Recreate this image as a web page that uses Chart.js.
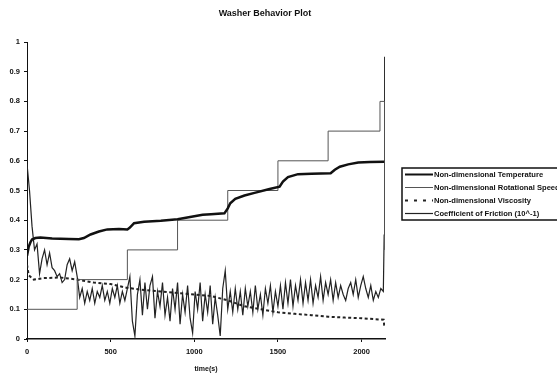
<!DOCTYPE html>
<html>
<head>
<meta charset="utf-8">
<script src="https://cdn.jsdelivr.net/npm/chart.js@4.4.1/dist/chart.umd.min.js"></script>
<style>
  html, body { margin: 0; padding: 0; background: #fff; }
  canvas { display: block; }
</style>
</head>
<body>
<canvas id="chart" width="557" height="374"></canvas>
<script>
const chartTitle = "Washer Behavior Plot";
const xTitle = "time(s)";
const xTicks = [0, 500, 1000, 1500, 2000];
const yTicks = [0, 0.1, 0.2, 0.3, 0.4, 0.5, 0.6, 0.7, 0.8, 0.9, 1];

// thick line
const tempTime = [0, 10, 20, 30, 50, 80, 150, 250, 310, 340, 380, 430, 480, 550, 600, 615, 640, 700, 800, 900,
    1000, 1050, 1100, 1180, 1200, 1215, 1245, 1300, 1360, 1450, 1510, 1530, 1560, 1620, 1700, 1815, 1840, 1870,
    1920, 1980, 2050, 2135];
const tempValue = [0.28, 0.31, 0.325, 0.335, 0.34, 0.342, 0.338, 0.337, 0.336, 0.34, 0.352, 0.362, 0.369, 0.37,
    0.369, 0.375, 0.39, 0.395, 0.398, 0.403, 0.413, 0.418, 0.42, 0.423, 0.44, 0.457, 0.472, 0.483, 0.492, 0.505,
    0.513, 0.53, 0.545, 0.555, 0.556, 0.558, 0.57, 0.58, 0.588, 0.594, 0.596, 0.597];

// steps
const speedTime = [0, 300, 600, 900, 1200, 1500, 1800, 2110, 2138];
const speedValue = [0.1, 0.2, 0.3, 0.4, 0.5, 0.6, 0.7, 0.8, 0.3];

// dashed
const viscTime = [0, 10, 40, 100, 200, 300, 400, 500, 600, 700, 800, 900, 1000, 1100, 1200, 1300, 1400, 1500,
    1600, 1700, 1800, 1900, 2000, 2100, 2132, 2136];
const viscValue = [0.25, 0.215, 0.2, 0.205, 0.207, 0.2, 0.19, 0.185, 0.172, 0.165, 0.16, 0.155, 0.15, 0.145,
    0.13, 0.11, 0.1, 0.09, 0.085, 0.08, 0.075, 0.072, 0.07, 0.066, 0.065, 0.04];

// noisy
const frictionTime = [
    0, 15, 30, 45, 60, 75, 90, 105, 120, 135,
    150, 165, 180, 195, 210, 225, 240, 255, 270, 285,
    300, 315, 330, 345, 360, 375, 390, 405, 420, 435,
    450, 465, 480, 495, 510, 525, 540, 555, 570, 585,
    600, 615, 630, 645, 660, 675, 690, 705, 720, 735,
    750, 765, 780, 795, 810, 825, 840, 855, 870, 885,
    900, 915, 930, 945, 960, 975, 990, 1005, 1020, 1035,
    1050, 1065, 1080, 1095, 1110, 1125, 1140, 1155, 1170, 1185,
    1200, 1215, 1230, 1245, 1260, 1275, 1290, 1305, 1320, 1335,
    1350, 1365, 1380, 1395, 1410, 1425, 1440, 1455, 1470, 1485,
    1500, 1515, 1530, 1545, 1560, 1575, 1590, 1605, 1620, 1635,
    1650, 1665, 1680, 1695, 1710, 1725, 1740, 1755, 1770, 1785,
    1800, 1815, 1830, 1845, 1860, 1875, 1890, 1905, 1920, 1935,
    1950, 1965, 1980, 1995, 2010, 2025, 2040, 2055, 2070, 2085,
    2100, 2115, 2130, 2135, 2138];
const frictionValue = [
    0.59, 0.5, 0.38, 0.3, 0.32, 0.22, 0.27, 0.3, 0.25, 0.29,
    0.24, 0.23, 0.21, 0.22, 0.19, 0.2, 0.25, 0.27, 0.23, 0.26,
    0.21, 0.14, 0.17, 0.12, 0.16, 0.13, 0.17, 0.12, 0.16, 0.14,
    0.18, 0.13, 0.16, 0.12, 0.17, 0.14, 0.18, 0.12, 0.16, 0.13,
    0.17, 0.21, 0.06, 0.01, 0.15, 0.2, 0.08, 0.19, 0.1, 0.18,
    0.21, 0.07, 0.16, 0.11, 0.19, 0.08, 0.14, 0.06, 0.17, 0.1,
    0.19, 0.05, 0.15, 0.09, 0.18, 0.07, 0.02, 0.16, 0.1, 0.19,
    0.06, 0.15, 0.09, 0.18, 0.05, 0.14, 0.08, 0.01, 0.17, 0.23,
    0.1, 0.16, 0.09, 0.17, 0.1, 0.16, 0.08, 0.17, 0.11, 0.16,
    0.09, 0.18, 0.1, 0.15, 0.08, 0.17, 0.12, 0.18, 0.09, 0.16,
    0.11, 0.18, 0.1, 0.19, 0.12, 0.2, 0.11, 0.18, 0.13, 0.2,
    0.12, 0.19, 0.13, 0.2, 0.12, 0.18, 0.14, 0.21, 0.13, 0.19,
    0.15, 0.2, 0.13, 0.19, 0.14, 0.18, 0.15, 0.13, 0.17, 0.19,
    0.15, 0.2, 0.14, 0.18, 0.21, 0.17, 0.14, 0.18, 0.13, 0.16,
    0.14, 0.17, 0.16, 0.35, 0.95];

const FONT = '"Liberation Sans", Arial, sans-serif';

function toPoints(xs, ys) {
    return xs.map((x, i) => ({ x: x, y: ys[i] }));
}

const decorPlugin = {
    id: "decor",
    afterDraw(chart) {
        const ctx = chart.ctx;
        ctx.save();
        ctx.fillStyle = "#111";
        ctx.font = "bold 9px " + FONT;
        ctx.textAlign = "center";
        ctx.textBaseline = "middle";
        ctx.fillText(chartTitle, 265, 14);

        // legend box, runs off the right edge like the scan
        ctx.strokeStyle = "#111";
        ctx.lineWidth = 1.5;
        ctx.strokeRect(402, 168, 200, 52);

        ctx.font = "bold 7.6px " + FONT;
        ctx.textAlign = "left";
        chart.data.datasets.forEach((ds, i) => {
            const y = 174.5 + i * 13;
            ctx.beginPath();
            ctx.setLineDash(ds.borderDash ? [3, 6] : []);
            ctx.lineWidth = Math.min(ds.borderWidth, 2);
            ctx.strokeStyle = ds.borderColor;
            ctx.moveTo(405, y);
            ctx.lineTo(433, y);
            ctx.stroke();
            ctx.setLineDash([]);
            ctx.fillStyle = "#111";
            ctx.fillText(ds.label, 434, y);
        });
        ctx.restore();
    }
};

new Chart(document.getElementById("chart"), {
    type: "line",
    data: {
        datasets: [
            {
                label: "Non-dimensional Temperature",
                data: toPoints(tempTime, tempValue),
                borderColor: "#111",
                borderWidth: 2.5
            },
            {
                label: "Non-dimensional Rotational Speed",
                data: toPoints(speedTime, speedValue),
                borderColor: "#555",
                borderWidth: 1,
                stepped: true
            },
            {
                label: "Non-dimensional Viscosity",
                data: toPoints(viscTime, viscValue),
                borderColor: "#222",
                borderWidth: 2,
                borderDash: [3, 2.5]
            },
            {
                label: "Coefficient of Friction (10^-1)",
                data: toPoints(frictionTime, frictionValue),
                borderColor: "#222",
                borderWidth: 1.2
            }
        ]
    },
    options: {
        responsive: false,
        animation: false,
        devicePixelRatio: 1,
        elements: {
            point: { radius: 0 },
            line: { tension: 0 }
        },
        layout: {
            padding: { left: 0, right: 172, top: 42, bottom: 0 }
        },
        plugins: {
            legend: { display: false },
            title: { display: false },
            tooltip: { enabled: false }
        },
        scales: {
            x: {
                type: "linear",
                min: 0,
                max: 2140,
                afterFit: (scale) => { scale.height = 35; },
                afterBuildTicks: (scale) => { scale.ticks = xTicks.map(v => ({ value: v })); },
                grid: { drawOnChartArea: false, drawTicks: true, tickLength: 3, color: "#111" },
                border: { display: true, color: "#111", width: 1.5 },
                ticks: {
                    padding: 5,
                    color: "#111",
                    font: { family: FONT, size: 7.5, weight: "bold" },
                    callback: (v) => String(v)
                },
                title: {
                    display: true,
                    text: xTitle,
                    color: "#111",
                    font: { family: FONT, size: 7, weight: "bold", lineHeight: 1 },
                    padding: { top: 0, bottom: 1 }
                }
            },
            y: {
                min: 0,
                max: 1,
                afterFit: (scale) => { scale.width = 27; },
                afterBuildTicks: (scale) => { scale.ticks = yTicks.map(v => ({ value: v })); },
                grid: { drawOnChartArea: false, drawTicks: true, tickLength: 3, color: "#111" },
                border: { display: true, color: "#111", width: 1 },
                ticks: {
                    padding: 4,
                    color: "#111",
                    font: { family: FONT, size: 7.5, weight: "bold" },
                    callback: (v) => String(v)
                }
            }
        }
    },
    plugins: [decorPlugin]
});
</script>
</body>
</html>
